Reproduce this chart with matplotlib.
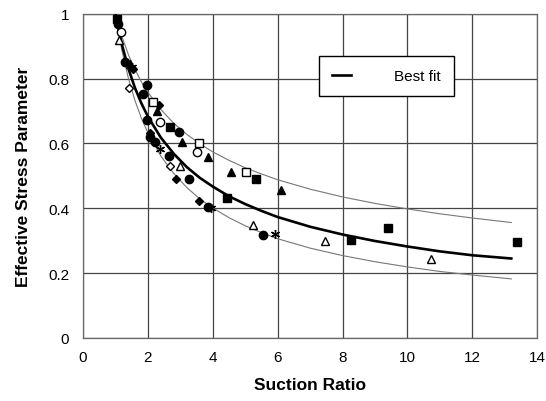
import matplotlib
matplotlib.use("Agg")
import matplotlib.pyplot as plt
from matplotlib.lines import Line2D

plt.rcParams['font.family'] = ['Liberation Sans', 'DejaVu Sans']

# curves (suction ratio -> effective stress parameter)
curve_x = [1.0, 1.2, 1.4, 1.6, 1.8, 2.0, 2.4, 2.8, 3.2, 3.6, 4.0, 4.5,
           5.0, 5.5, 6.0, 7.0, 8.0, 9.0, 10.0, 11.0, 12.0, 13.2]
best_fit = [1.0, 0.905, 0.831, 0.772, 0.724, 0.683, 0.618, 0.568, 0.527,
            0.494, 0.467, 0.437, 0.413, 0.392, 0.373, 0.343, 0.319, 0.299,
            0.282, 0.267, 0.255, 0.245]
upper_bound = [1.0, 0.930, 0.874, 0.829, 0.790, 0.758, 0.705, 0.662, 0.628,
               0.599, 0.574, 0.548, 0.525, 0.506, 0.488, 0.459, 0.435,
               0.415, 0.398, 0.383, 0.370, 0.356]
lower_bound = [1.0, 0.887, 0.801, 0.733, 0.678, 0.633, 0.561, 0.507, 0.464,
               0.429, 0.401, 0.371, 0.346, 0.325, 0.306, 0.277, 0.254,
               0.235, 0.219, 0.205, 0.194, 0.182]

# measured points, grouped by symbol
sq_fill_x = [1.04, 2.69, 5.33, 4.43, 8.27, 9.39, 13.38]
sq_fill_y = [0.985, 0.65, 0.489, 0.432, 0.302, 0.34, 0.295]
ci_fill_x = [1.09, 1.30, 1.96, 1.84, 1.96, 2.07, 2.22, 2.97, 2.65, 3.28, 3.84, 5.55]
ci_fill_y = [0.97, 0.851, 0.78, 0.753, 0.671, 0.62, 0.604, 0.635, 0.561, 0.489, 0.403, 0.316]
tr_fill_x = [1.45, 2.29, 3.04, 3.84, 4.57, 6.1]
tr_fill_y = [0.846, 0.70, 0.606, 0.558, 0.511, 0.455]
di_fill_x = [1.55, 2.35, 2.05, 2.87, 3.59]
di_fill_y = [0.83, 0.719, 0.633, 0.491, 0.424]
sq_open_x = [2.15, 3.59, 5.02]
sq_open_y = [0.727, 0.60, 0.513]
ci_open_x = [1.16, 2.36, 3.51]
ci_open_y = [0.944, 0.666, 0.573]
tr_open_x = [1.12, 2.99, 5.23, 7.47, 10.71]
tr_open_y = [0.918, 0.532, 0.349, 0.30, 0.242]
di_open_x = [1.43, 2.69]
di_open_y = [0.771, 0.532]
ast_x = [1.50, 2.38, 3.94, 5.93]
ast_y = [0.835, 0.583, 0.40, 0.321]

x_ticks = [0, 2, 4, 6, 8, 10, 12, 14]
y_ticks = [0, 0.2, 0.4, 0.6, 0.8, 1.0]
y_tick_labels = ["0", "0.2", "0.4", "0.6", "0.8", "1"]

fig = plt.figure(figsize=(5.46, 4.02), dpi=100)
ax = fig.add_axes([0.152, 0.157, 0.832, 0.806])

ax.plot(curve_x, upper_bound, color="#777777", lw=0.8, zorder=2)
ax.plot(curve_x, lower_bound, color="#777777", lw=0.8, zorder=2)
ax.plot(curve_x, best_fit, color="black", lw=1.9, zorder=3)

ms = 5.5
ax.plot(sq_fill_x, sq_fill_y, 's', color="black", ms=ms, zorder=4)
ax.plot(ci_fill_x, ci_fill_y, 'o', color="black", ms=ms + 0.5, zorder=4)
ax.plot(tr_fill_x, tr_fill_y, '^', color="black", ms=ms + 0.5, zorder=4)
ax.plot(di_fill_x, di_fill_y, 'D', color="black", ms=ms - 1, zorder=4)
ax.plot(sq_open_x, sq_open_y, 's', mfc="white", mec="black", mew=1, ms=ms, zorder=4)
ax.plot(ci_open_x, ci_open_y, 'o', mfc="white", mec="black", mew=1, ms=ms + 0.5, zorder=4)
ax.plot(tr_open_x, tr_open_y, '^', mfc="white", mec="black", mew=1, ms=ms + 0.5, zorder=4)
ax.plot(di_open_x, di_open_y, 'D', mfc="white", mec="black", mew=1, ms=ms - 1, zorder=4)
ax.plot(ast_x, ast_y, linestyle="none", marker=(6, 2, 0), color="black",
        mew=1, ms=ms + 1, zorder=4)

ax.set_xlim(0, 14)
ax.set_ylim(0, 1)
ax.set_xticks(x_ticks)
ax.set_yticks(y_ticks)
ax.set_yticklabels(y_tick_labels)
ax.tick_params(length=0, labelsize=11)
ax.tick_params(axis='x', pad=9)
ax.tick_params(axis='y', pad=10)
ax.grid(True, color="#444444", lw=0.9)
ax.set_axisbelow(True)
for sp in ax.spines.values():
    sp.set_color("#666666")
    sp.set_linewidth(0.9)

ax.set_xlabel("Suction Ratio", fontsize=12.5, fontweight="bold", labelpad=9)
ax.set_ylabel("Effective Stress Parameter", fontsize=12.5, fontweight="bold",
              labelpad=12)

handle = Line2D([], [], color="black", lw=1.9)
leg = ax.legend([handle], ["Best fit"], loc="upper left",
                bbox_to_anchor=(0.52, 0.87), borderaxespad=0, fontsize=11,
                handlelength=1.25, handletextpad=2.8, borderpad=0.85,
                fancybox=False, framealpha=1, edgecolor="black")
leg.get_frame().set_linewidth(1.0)

fig.savefig("out.png", dpi=100)
